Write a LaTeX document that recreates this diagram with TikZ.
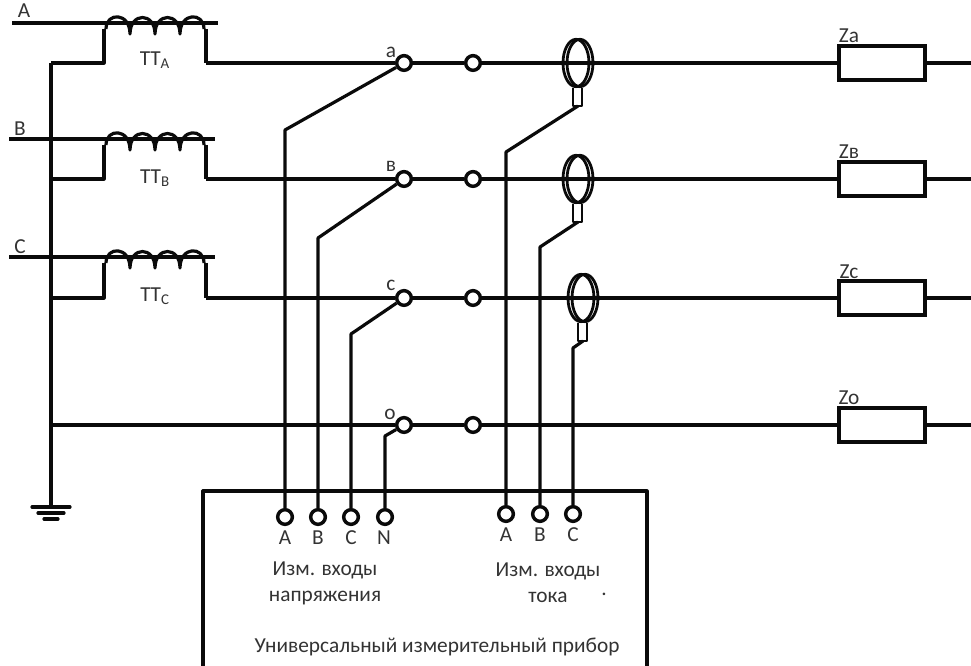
\documentclass[tikz,border=0pt]{standalone}
\usepackage{fontspec}
\setmainfont{Carlito}
\usepackage{tikz}
\usetikzlibrary{shapes}
\usetikzlibrary{calc}
\usepackage{xcolor}
\definecolor{myblack}{HTML}{0A0A0A}
\definecolor{mygray}{HTML}{333333}
\tikzset{x=0.75pt, y=-0.75pt, every text node part/.style={align=center, font={\fontsize{16pt}{19.5pt}\selectfont}, text=mygray}}
\tikzstyle{ln} = [draw=myblack, line width=2.4pt, line join=round]
\tikzstyle{term} = [circle, draw=myblack, fill=white, line width=2.6pt, inner sep=0, minimum size=11pt]
\tikzstyle{load} = [rectangle, draw=myblack, fill=white, line width=2.9pt, inner sep=0, minimum width=64pt, minimum height=25pt]
\tikzstyle{ring} = [ellipse, draw=myblack, line width=2.1pt, inner sep=0, minimum width=19.5pt, minimum height=35.5pt]
\tikzstyle{lbl} = [inner sep=0]
\tikzset{coil/.pic={
  \draw[ln] (-49,6) .. controls (-49,-11) and (-25,-11) .. (-25,11)
    .. controls (-25,-11) and (0,-11) .. (0,11)
    .. controls (0,-11) and (25,-11) .. (25,11)
    .. controls (25,-11) and (49,-11) .. (49,6);
}}
\begin{document}
\begin{tikzpicture}
  \useasboundingbox (0,0) rectangle (971,666);
  % the three lines with transformers
  \coordinate (ina) at (12,23);
  \coordinate (outa) at (218,23);
  \coordinate (inb) at (9,139);
  \coordinate (outb) at (215,139);
  \coordinate (inc) at (9,257);
  \coordinate (outc) at (215,257);
  \coordinate (reta) at (51,63);
  \coordinate (retb) at (51,179);
  \coordinate (retc) at (51,298);
  \coordinate (reto) at (51,425);
  \coordinate (gnd) at (51,507);
  \coordinate (la) at (104,63);
  \coordinate (lb) at (104,179);
  \coordinate (lc) at (104,298);
  \coordinate (ra) at (206,63);
  \coordinate (rb) at (206,179);
  \coordinate (rc) at (206,298);
  \coordinate (ta) at (104,29);
  \coordinate (tb) at (104,145);
  \coordinate (tc) at (104,263);
  \coordinate (ua) at (206,29);
  \coordinate (ub) at (206,145);
  \coordinate (uc) at (206,263);
  \coordinate (enda) at (971,63);
  \coordinate (endb) at (971,179);
  \coordinate (endc) at (971,298);
  \coordinate (endo) at (971,425);
  % the device
  \coordinate (boxbl) at (203,666);
  \coordinate (boxtl) at (203,491);
  \coordinate (boxtr) at (647,491);
  \coordinate (boxbr) at (647,666);
  % bends of the tap wires
  \coordinate (benda) at (285,130);
  \coordinate (bendb) at (318,238);
  \coordinate (bendc) at (351,334);
  \coordinate (bendo) at (385,436);
  \coordinate (benia) at (506,152);
  \coordinate (benib) at (540,247);
  \coordinate (benic) at (573,348);
  \coordinate (taila) at (578,106);
  \coordinate (tailb) at (578,222);
  \coordinate (tailc) at (583,341);

  \path[ln]
    (ina) edge (outa)
    (inb) edge (outb)
    (inc) edge (outc)
    (reta) edge (gnd)
    (gnd) ++(-19,0) edge[line cap=round] ++(38,0)
    (gnd) ++(-13,6) edge[line cap=round] ++(26,0)
    (gnd) ++(-7,12) edge[line cap=round] ++(14,0);
  \draw[ln] (reta) -- (la) -- (ta);
  \draw[ln] (retb) -- (lb) -- (tb);
  \draw[ln] (retc) -- (lc) -- (tc);
  \draw[ln] (ua) -- (ra);
  \draw[ln] (ub) -- (rb);
  \draw[ln] (uc) -- (rc);
  \pic at (155,23) {coil};
  \pic at (155,139) {coil};
  \pic at (155,257) {coil};
  \draw[ln] (boxbl) -- (boxtl) -- (boxtr) -- (boxbr);

  \node[term] (swa) at (404,63) {};
  \node[term] (swb) at (404,179) {};
  \node[term] (swc) at (404,298) {};
  \node[term] (swo) at (404,425) {};
  \node[term] (mesa) at (473,63) {};
  \node[term] (mesb) at (473,179) {};
  \node[term] (mesc) at (473,298) {};
  \node[term] (meso) at (473,425) {};
  \node[load] (za) at (882,63) {};
  \node[load] (zb) at (882,179) {};
  \node[load] (zc) at (882,298) {};
  \node[load] (zo) at (882,425) {};
  \node[term] (vta) at (285,517) {};
  \node[term] (vtb) at (318,517) {};
  \node[term] (vtc) at (351,517) {};
  \node[term] (vtn) at (385,517) {};
  \node[term] (cra) at (506,514) {};
  \node[term] (crb) at (540,514) {};
  \node[term] (crc) at (573,514) {};

  \path[ln]
    (ra) edge (swa)
    (rb) edge (swb)
    (rc) edge (swc)
    (reto) edge (swo)
    (swa) edge (mesa)
    (swb) edge (mesb)
    (swc) edge (mesc)
    (swo) edge (meso)
    (mesa) edge (za)
    (mesb) edge (zb)
    (mesc) edge (zc)
    (meso) edge (zo)
    (za) edge (enda)
    (zb) edge (endb)
    (zc) edge (endc)
    (zo) edge (endo);
  \draw[ln] (swa) -- (benda) -- (vta);
  \draw[ln] (swb) -- (bendb) -- (vtb);
  \draw[ln] (swc) -- (bendc) -- (vtc);
  \draw[ln] (swo) -- (bendo) -- (vtn);
  \draw[ln] (taila) -- (benia) -- (cra);
  \draw[ln] (tailb) -- (benib) -- (crb);
  \draw[ln] (tailc) -- (benic) -- (crc);

  % current clamps
  \node[ring] (cta) at (580,63) {};
  \node[ring] (ctb) at (580,179) {};
  \node[ring] (ctc) at (585,298) {};
  \node[ring] (ctaa) at (576,63) {};
  \node[ring] (ctbb) at (576,179) {};
  \node[ring] (ctcc) at (581,298) {};
  \draw[ln, line width=1.8pt] ($(taila)+(-5,-18)$) -- ($(taila)+(-5,0)$) -- ($(taila)+(4,0)$) -- ($(taila)+(4,-18)$);
  \draw[ln, line width=1.8pt] ($(tailb)+(-5,-18)$) -- ($(tailb)+(-5,0)$) -- ($(tailb)+(4,0)$) -- ($(tailb)+(4,-18)$);
  \draw[ln, line width=1.8pt] ($(tailc)+(-5,-18)$) -- ($(tailc)+(-5,0)$) -- ($(tailc)+(4,0)$) -- ($(tailc)+(4,-18)$);

  % labels
  \node[lbl] (laba) at (24,11) {A};
  \node[lbl] (labb) at (20,129) {B};
  \node[lbl] (labc) at (20,247) {C};
  \node[lbl] (tta) at (155,60) {ТТ\textsubscript{A}};
  \node[lbl] (ttb) at (155,178) {ТТ\textsubscript{B}};
  \node[lbl] (ttc) at (155,296) {ТТ\textsubscript{C}};
  \node[lbl] (laa) at (391,52) {a};
  \node[lbl] (lab) at (391,166) {в};
  \node[lbl] (lac) at (391,285) {c};
  \node[lbl] (lao) at (390,414) {o};
  \node[lbl] (zla) at (849,36) {Za};
  \node[lbl] (zlb) at (849,152) {Zв};
  \node[lbl] (zlc) at (849,272) {Zc};
  \node[lbl] (zlo) at (849,398) {Zo};
  \node[lbl] (vla) at (285,538) {A};
  \node[lbl] (vlb) at (318,538) {B};
  \node[lbl] (vlc) at (351,538) {C};
  \node[lbl] (vln) at (384,538) {N};
  \node[lbl] (cla) at (506,535) {A};
  \node[lbl] (clb) at (540,535) {B};
  \node[lbl] (clc) at (573,535) {C};
  \node[lbl] (vin) at (325,583) {Изм. входы\\напряжения};
  \node[lbl] (cin) at (548,583) {Изм. входы\\тока};
  \node[lbl] (dot) at (604,594) {.};
  \node[lbl] (dev) at (437,647) {Универсальный измерительный прибор};
\end{tikzpicture}
\end{document}
